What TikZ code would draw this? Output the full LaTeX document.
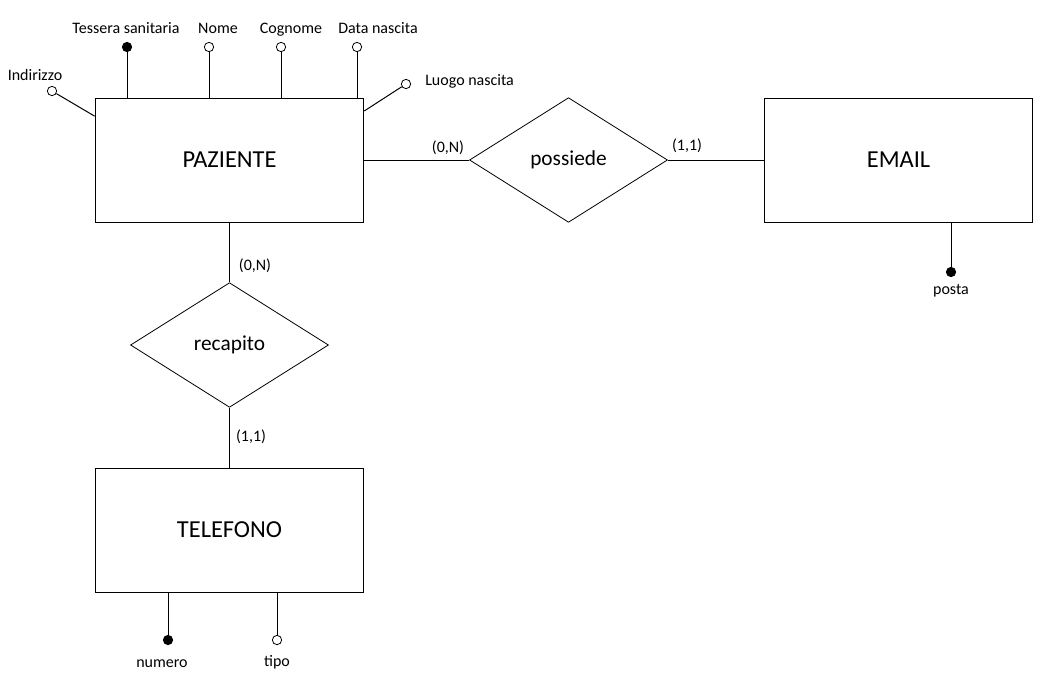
\documentclass[tikz,border=0pt]{standalone}
\usepackage{fontspec}
\setmainfont{Carlito}
\usetikzlibrary{shapes.geometric}

\tikzset{
  entity/.style={draw, rectangle, line width=0.75pt, minimum width=201.5pt, minimum height=93pt, font=\fontsize{18.3}{20}\selectfont},
  relation/.style={draw, diamond, line width=0.6pt, inner sep=0pt, minimum width=148.5pt, minimum height=93.5pt, font=\fontsize{16}{18}\selectfont},
  attr/.style={draw, circle, line width=0.6pt, fill=white, inner sep=0pt, minimum size=7pt},
  keyattr/.style={attr, fill=black},
  lbl/.style={font=\fontsize{12}{14}\selectfont, inner sep=0pt, text height=8.8pt, text depth=2.6pt},
}

\begin{document}
\begin{tikzpicture}[x=0.75pt, y=-0.75pt]
\useasboundingbox (0,0) rectangle (1044,690);

\begin{scope}
    \node[entity] (paziente) at (229.5,160) {PAZIENTE};
    \node[entity] (telefono) at (229.5,530) {TELEFONO};
    \node[entity] (email) at (898.5,160) {EMAIL};
    \node[relation] (possiede) at (568.5,160) {possiede};
    \node[relation] (recapito) at (229.5,345) {recapito};

    % attributi paziente
    \node[keyattr] (tessera) at (127,47) {};
    \node[lbl] (tessera_label) at (126,29) {Tessera sanitaria};
    \node[attr] (nome) at (209,47) {};
    \node[lbl] (nome_label) at (218,29) {Nome};
    \node[attr] (cognome) at (281,47) {};
    \node[lbl] (cognome_label) at (291,29) {Cognome};
    \node[attr] (data_nascita) at (357,47) {};
    \node[lbl] (data_nascita_label) at (378,29) {Data nascita};
    \node[attr] (luogo_nascita) at (406,84) {};
    \node[lbl, anchor=west] (luogo_nascita_label) at (425,81) {Luogo nascita};
    \node[attr] (indirizzo) at (52,91) {};
    \node[lbl] (indirizzo_label) at (35,76) {Indirizzo};

    % attributi telefono / email
    \node[keyattr] (numero) at (168,640) {};
    \node[lbl] (numero_label) at (162,663) {numero};
    \node[attr] (tipo) at (277,640) {};
    \node[lbl] (tipo_label) at (277,662) {tipo};
    \node[keyattr] (posta) at (951,272) {};
    \node[lbl] (posta_label) at (951,290) {posta};

    % cardinalita
    \node[lbl] (card_paz_poss) at (448,148) {(0,N)};
    \node[lbl] (card_email_poss) at (687,146) {(1,1)};
    \node[lbl] (card_paz_rec) at (255,266) {(0,N)};
    \node[lbl] (card_tel_rec) at (251,437) {(1,1)};
\end{scope}

\begin{scope}[every edge/.style={draw=black, line width=0.75pt}]
    \path (paziente.east) edge (possiede.west);
    \path (possiede.east) edge (email.west);
    \path (paziente.south) edge (recapito.north);
    \path (recapito.south) edge (telefono.north);

    \path (paziente.north -| tessera) edge (tessera);
    \path (paziente.north -| nome) edge (nome);
    \path (paziente.north -| cognome) edge (cognome);
    \path (paziente.north -| data_nascita) edge (data_nascita);
    \path (paziente.20) edge (luogo_nascita);
    \path (paziente.162) edge (indirizzo);

    \path (telefono.south -| numero) edge (numero);
    \path (telefono.south -| tipo) edge (tipo);
    \path (email.south -| posta) edge (posta);
\end{scope}
\end{tikzpicture}
\end{document}
